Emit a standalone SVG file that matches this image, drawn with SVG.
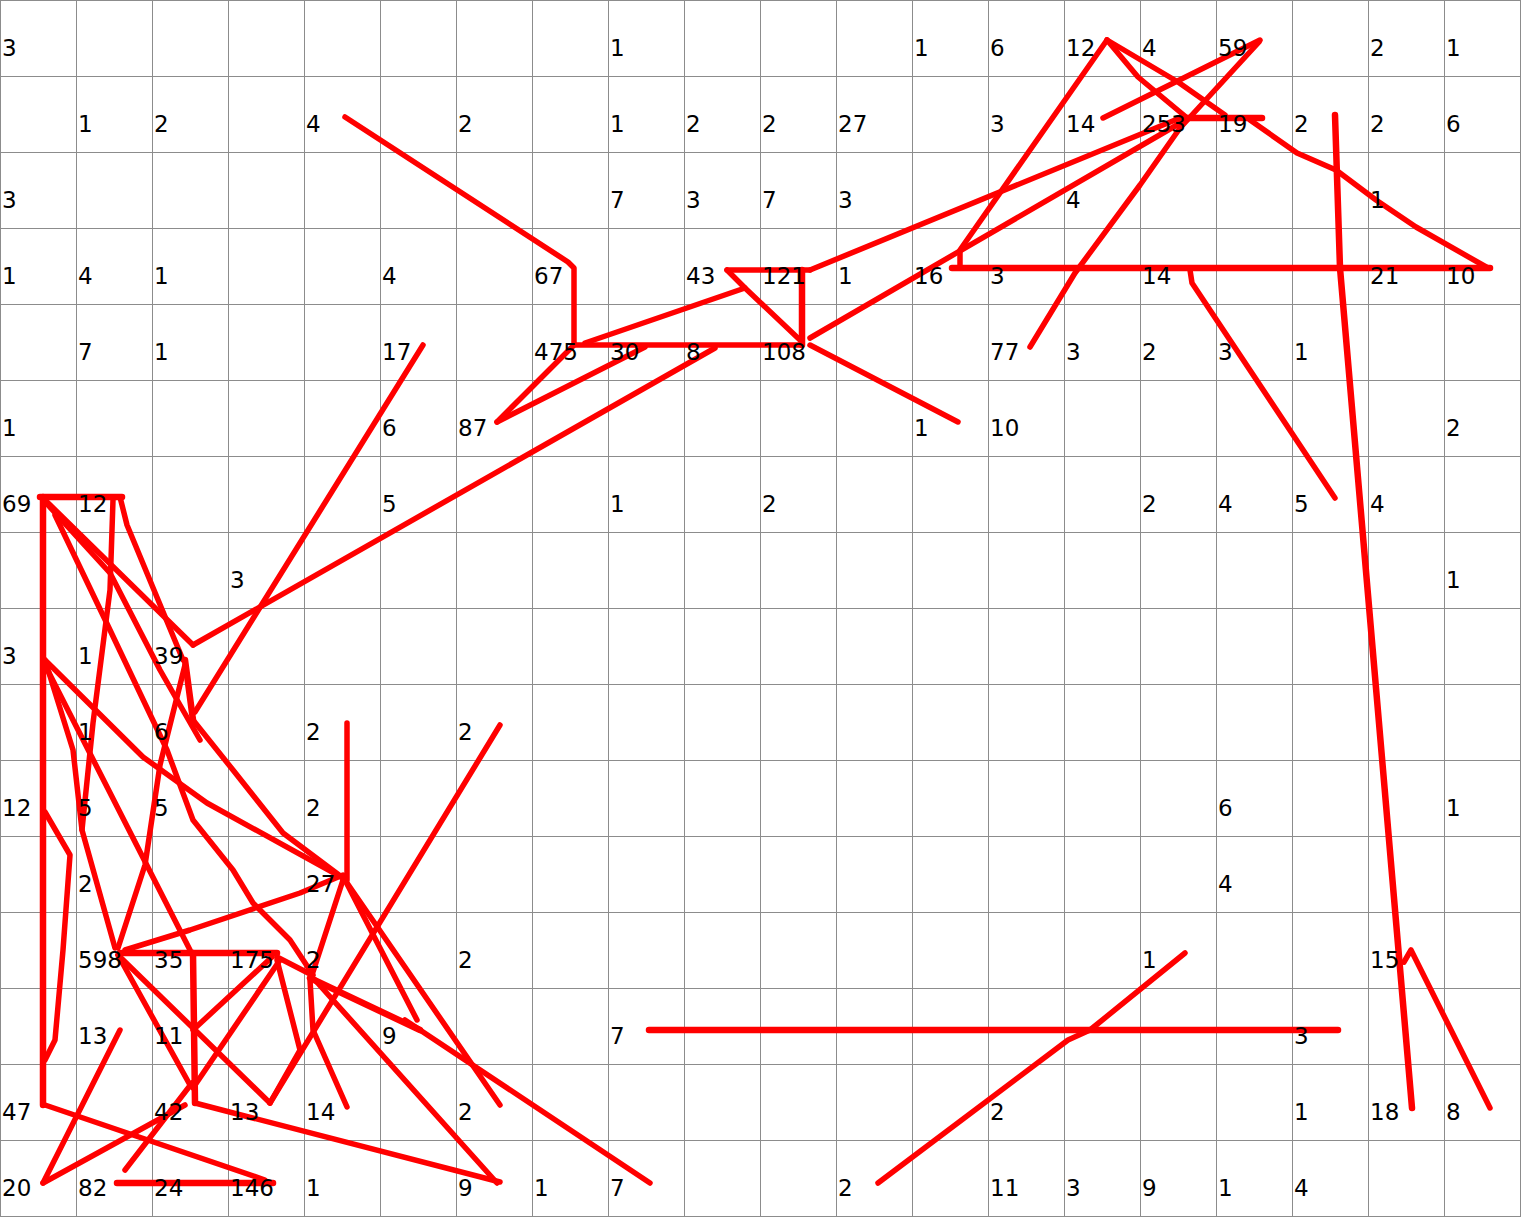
<svg xmlns="http://www.w3.org/2000/svg" width="1522" height="1218" viewBox="0 0 1522 1218">
<style>
.grid line{stroke:#8c8c8c;stroke-width:1}
text{font-family:"DejaVu Sans","Liberation Sans",sans-serif;font-size:23px;fill:#000}
#connectors polyline{fill:none;stroke:#ff0000;stroke-width:5.5;stroke-linecap:round;stroke-linejoin:round}
#connectors polyline.t{stroke-width:6.5}
</style>
<rect x="0" y="0" width="1522" height="1218" fill="#ffffff"/>
<g class="grid">
<line x1="0.5" y1="0" x2="0.5" y2="1217"/><line x1="76.5" y1="0" x2="76.5" y2="1217"/><line x1="152.5" y1="0" x2="152.5" y2="1217"/><line x1="228.5" y1="0" x2="228.5" y2="1217"/><line x1="304.5" y1="0" x2="304.5" y2="1217"/><line x1="380.5" y1="0" x2="380.5" y2="1217"/><line x1="456.5" y1="0" x2="456.5" y2="1217"/><line x1="532.5" y1="0" x2="532.5" y2="1217"/><line x1="608.5" y1="0" x2="608.5" y2="1217"/><line x1="684.5" y1="0" x2="684.5" y2="1217"/><line x1="760.5" y1="0" x2="760.5" y2="1217"/><line x1="836.5" y1="0" x2="836.5" y2="1217"/><line x1="912.5" y1="0" x2="912.5" y2="1217"/><line x1="988.5" y1="0" x2="988.5" y2="1217"/><line x1="1064.5" y1="0" x2="1064.5" y2="1217"/><line x1="1140.5" y1="0" x2="1140.5" y2="1217"/><line x1="1216.5" y1="0" x2="1216.5" y2="1217"/><line x1="1292.5" y1="0" x2="1292.5" y2="1217"/><line x1="1368.5" y1="0" x2="1368.5" y2="1217"/><line x1="1444.5" y1="0" x2="1444.5" y2="1217"/><line x1="1520.5" y1="0" x2="1520.5" y2="1217"/>
<line x1="0" y1="0.5" x2="1521" y2="0.5"/><line x1="0" y1="76.5" x2="1521" y2="76.5"/><line x1="0" y1="152.5" x2="1521" y2="152.5"/><line x1="0" y1="228.5" x2="1521" y2="228.5"/><line x1="0" y1="304.5" x2="1521" y2="304.5"/><line x1="0" y1="380.5" x2="1521" y2="380.5"/><line x1="0" y1="456.5" x2="1521" y2="456.5"/><line x1="0" y1="532.5" x2="1521" y2="532.5"/><line x1="0" y1="608.5" x2="1521" y2="608.5"/><line x1="0" y1="684.5" x2="1521" y2="684.5"/><line x1="0" y1="760.5" x2="1521" y2="760.5"/><line x1="0" y1="836.5" x2="1521" y2="836.5"/><line x1="0" y1="912.5" x2="1521" y2="912.5"/><line x1="0" y1="988.5" x2="1521" y2="988.5"/><line x1="0" y1="1064.5" x2="1521" y2="1064.5"/><line x1="0" y1="1140.5" x2="1521" y2="1140.5"/><line x1="0" y1="1216.5" x2="1521" y2="1216.5"/>
</g>
<g id="connectors">
<polyline points="345,117 568,262 574,268 574,345 800,345"/>
<polyline class="t" points="802,345 802,270"/>
<polyline points="727,270 810,270"/>
<polyline points="727,270 745,288 800,340"/>
<polyline points="745,288 585,343"/>
<polyline points="497,422 574,345"/>
<polyline points="497,422 645,347"/>
<polyline points="715,348 193,645"/>
<polyline points="423,345 195,712"/>
<polyline points="810,270 1180,118"/>
<polyline points="810,338 1182,122"/>
<polyline points="810,345 958,422"/>
<polyline points="960,268 960,250 1107,40"/>
<polyline points="1103,118 1260,40"/>
<polyline points="1030,347 1075,273 1140,185 1180,128 1259,42"/>
<polyline points="1107,40 1178,82 1225,115"/>
<polyline points="1107,40 1138,77 1186,117"/>
<polyline class="t" points="1180,118 1262,118"/>
<polyline points="1250,120 1297,153 1336,170 1376,200 1416,227 1488,268"/>
<polyline class="t" points="952,268 1490,268"/>
<polyline points="1190,270 1192,283 1335,498"/>
<polyline class="t" points="1335,115 1340,268 1412,1108"/>
<polyline points="1404,962 1411,950 1490,1108"/>
<polyline class="t" points="649,1030 1338,1030"/>
<polyline points="878,1183 1068,1040 1090,1030 1185,953"/>
<polyline class="t" points="40,497 122,497"/>
<polyline class="t" points="43,497 43,1105"/>
<polyline points="120,497 127,525 183,660"/>
<polyline points="45,500 193,645"/>
<polyline points="55,515 110,630 167,750 193,820 233,870 253,903 290,940 313,975"/>
<polyline points="48,505 110,573 160,670 200,740"/>
<polyline points="113,500 110,590 93,723 82,830 115,948"/>
<polyline points="45,660 73,750 82,830"/>
<polyline points="45,665 190,950"/>
<polyline points="185,665 160,765 145,865 118,948"/>
<polyline points="45,660 143,757 207,803 343,878"/>
<polyline class="t" points="185,660 193,720"/>
<polyline points="193,720 233,770 283,833 343,878"/>
<polyline points="125,950 190,930 300,893 343,875"/>
<polyline points="347,723 347,880"/>
<polyline points="345,880 500,1105"/>
<polyline points="345,880 417,1020"/>
<polyline points="500,725 270,1103"/>
<polyline points="315,980 497,1183"/>
<polyline class="t" points="310,978 420,1030"/>
<polyline points="405,1020 650,1183"/>
<polyline points="310,980 313,1030 347,1107"/>
<polyline class="t" points="120,953 277,953"/>
<polyline class="t" points="193,953 195,1103"/>
<polyline points="118,955 270,1103"/>
<polyline points="118,955 190,1085"/>
<polyline points="193,1030 272,957"/>
<polyline points="193,1088 280,960"/>
<polyline points="277,960 300,1050 270,1103"/>
<polyline points="45,1105 265,1180"/>
<polyline points="120,1030 43,1183"/>
<polyline points="43,1183 185,1105"/>
<polyline class="t" points="117,1183 273,1183"/>
<polyline points="125,1170 192,1083"/>
<polyline points="195,1103 500,1182"/>
<polyline points="45,812 70,855 63,950 55,1040 45,1060"/>
<polyline points="277,957 312,975"/>
<polyline points="343,880 312,975"/>
</g>
<g id="labels">
<g id="n0_0"><text x="2" y="56">3</text></g>
<g id="n0_8"><text x="610" y="56">1</text></g>
<g id="n0_12"><text x="914" y="56">1</text></g>
<g id="n0_13"><text x="990" y="56">6</text></g>
<g id="n0_14"><text x="1066" y="56">12</text></g>
<g id="n0_15"><text x="1142" y="56">4</text></g>
<g id="n0_16"><text x="1218" y="56">59</text></g>
<g id="n0_18"><text x="1370" y="56">2</text></g>
<g id="n0_19"><text x="1446" y="56">1</text></g>
<g id="n1_1"><text x="78" y="132">1</text></g>
<g id="n1_2"><text x="154" y="132">2</text></g>
<g id="n1_4"><text x="306" y="132">4</text></g>
<g id="n1_6"><text x="458" y="132">2</text></g>
<g id="n1_8"><text x="610" y="132">1</text></g>
<g id="n1_9"><text x="686" y="132">2</text></g>
<g id="n1_10"><text x="762" y="132">2</text></g>
<g id="n1_11"><text x="838" y="132">27</text></g>
<g id="n1_13"><text x="990" y="132">3</text></g>
<g id="n1_14"><text x="1066" y="132">14</text></g>
<g id="n1_15"><text x="1142" y="132">253</text></g>
<g id="n1_16"><text x="1218" y="132">19</text></g>
<g id="n1_17"><text x="1294" y="132">2</text></g>
<g id="n1_18"><text x="1370" y="132">2</text></g>
<g id="n1_19"><text x="1446" y="132">6</text></g>
<g id="n2_0"><text x="2" y="208">3</text></g>
<g id="n2_8"><text x="610" y="208">7</text></g>
<g id="n2_9"><text x="686" y="208">3</text></g>
<g id="n2_10"><text x="762" y="208">7</text></g>
<g id="n2_11"><text x="838" y="208">3</text></g>
<g id="n2_14"><text x="1066" y="208">4</text></g>
<g id="n2_18"><text x="1370" y="208">1</text></g>
<g id="n3_0"><text x="2" y="284">1</text></g>
<g id="n3_1"><text x="78" y="284">4</text></g>
<g id="n3_2"><text x="154" y="284">1</text></g>
<g id="n3_5"><text x="382" y="284">4</text></g>
<g id="n3_7"><text x="534" y="284">67</text></g>
<g id="n3_9"><text x="686" y="284">43</text></g>
<g id="n3_10"><text x="762" y="284">121</text></g>
<g id="n3_11"><text x="838" y="284">1</text></g>
<g id="n3_12"><text x="914" y="284">16</text></g>
<g id="n3_13"><text x="990" y="284">3</text></g>
<g id="n3_15"><text x="1142" y="284">14</text></g>
<g id="n3_18"><text x="1370" y="284">21</text></g>
<g id="n3_19"><text x="1446" y="284">10</text></g>
<g id="n4_1"><text x="78" y="360">7</text></g>
<g id="n4_2"><text x="154" y="360">1</text></g>
<g id="n4_5"><text x="382" y="360">17</text></g>
<g id="n4_7"><text x="534" y="360">475</text></g>
<g id="n4_8"><text x="610" y="360">30</text></g>
<g id="n4_9"><text x="686" y="360">8</text></g>
<g id="n4_10"><text x="762" y="360">108</text></g>
<g id="n4_13"><text x="990" y="360">77</text></g>
<g id="n4_14"><text x="1066" y="360">3</text></g>
<g id="n4_15"><text x="1142" y="360">2</text></g>
<g id="n4_16"><text x="1218" y="360">3</text></g>
<g id="n4_17"><text x="1294" y="360">1</text></g>
<g id="n5_0"><text x="2" y="436">1</text></g>
<g id="n5_5"><text x="382" y="436">6</text></g>
<g id="n5_6"><text x="458" y="436">87</text></g>
<g id="n5_12"><text x="914" y="436">1</text></g>
<g id="n5_13"><text x="990" y="436">10</text></g>
<g id="n5_19"><text x="1446" y="436">2</text></g>
<g id="n6_0"><text x="2" y="512">69</text></g>
<g id="n6_1"><text x="78" y="512">12</text></g>
<g id="n6_5"><text x="382" y="512">5</text></g>
<g id="n6_8"><text x="610" y="512">1</text></g>
<g id="n6_10"><text x="762" y="512">2</text></g>
<g id="n6_15"><text x="1142" y="512">2</text></g>
<g id="n6_16"><text x="1218" y="512">4</text></g>
<g id="n6_17"><text x="1294" y="512">5</text></g>
<g id="n6_18"><text x="1370" y="512">4</text></g>
<g id="n7_3"><text x="230" y="588">3</text></g>
<g id="n7_19"><text x="1446" y="588">1</text></g>
<g id="n8_0"><text x="2" y="664">3</text></g>
<g id="n8_1"><text x="78" y="664">1</text></g>
<g id="n8_2"><text x="154" y="664">39</text></g>
<g id="n9_1"><text x="78" y="740">1</text></g>
<g id="n9_2"><text x="154" y="740">6</text></g>
<g id="n9_4"><text x="306" y="740">2</text></g>
<g id="n9_6"><text x="458" y="740">2</text></g>
<g id="n10_0"><text x="2" y="816">12</text></g>
<g id="n10_1"><text x="78" y="816">5</text></g>
<g id="n10_2"><text x="154" y="816">5</text></g>
<g id="n10_4"><text x="306" y="816">2</text></g>
<g id="n10_16"><text x="1218" y="816">6</text></g>
<g id="n10_19"><text x="1446" y="816">1</text></g>
<g id="n11_1"><text x="78" y="892">2</text></g>
<g id="n11_4"><text x="306" y="892">27</text></g>
<g id="n11_16"><text x="1218" y="892">4</text></g>
<g id="n12_1"><text x="78" y="968">598</text></g>
<g id="n12_2"><text x="154" y="968">35</text></g>
<g id="n12_3"><text x="230" y="968">175</text></g>
<g id="n12_4"><text x="306" y="968">2</text></g>
<g id="n12_6"><text x="458" y="968">2</text></g>
<g id="n12_15"><text x="1142" y="968">1</text></g>
<g id="n12_18"><text x="1370" y="968">15</text></g>
<g id="n13_1"><text x="78" y="1044">13</text></g>
<g id="n13_2"><text x="154" y="1044">11</text></g>
<g id="n13_5"><text x="382" y="1044">9</text></g>
<g id="n13_8"><text x="610" y="1044">7</text></g>
<g id="n13_17"><text x="1294" y="1044">3</text></g>
<g id="n14_0"><text x="2" y="1120">47</text></g>
<g id="n14_2"><text x="154" y="1120">42</text></g>
<g id="n14_3"><text x="230" y="1120">13</text></g>
<g id="n14_4"><text x="306" y="1120">14</text></g>
<g id="n14_6"><text x="458" y="1120">2</text></g>
<g id="n14_13"><text x="990" y="1120">2</text></g>
<g id="n14_17"><text x="1294" y="1120">1</text></g>
<g id="n14_18"><text x="1370" y="1120">18</text></g>
<g id="n14_19"><text x="1446" y="1120">8</text></g>
<g id="n15_0"><text x="2" y="1196">20</text></g>
<g id="n15_1"><text x="78" y="1196">82</text></g>
<g id="n15_2"><text x="154" y="1196">24</text></g>
<g id="n15_3"><text x="230" y="1196">146</text></g>
<g id="n15_4"><text x="306" y="1196">1</text></g>
<g id="n15_6"><text x="458" y="1196">9</text></g>
<g id="n15_7"><text x="534" y="1196">1</text></g>
<g id="n15_8"><text x="610" y="1196">7</text></g>
<g id="n15_11"><text x="838" y="1196">2</text></g>
<g id="n15_13"><text x="990" y="1196">11</text></g>
<g id="n15_14"><text x="1066" y="1196">3</text></g>
<g id="n15_15"><text x="1142" y="1196">9</text></g>
<g id="n15_16"><text x="1218" y="1196">1</text></g>
<g id="n15_17"><text x="1294" y="1196">4</text></g>
</g>
</svg>
